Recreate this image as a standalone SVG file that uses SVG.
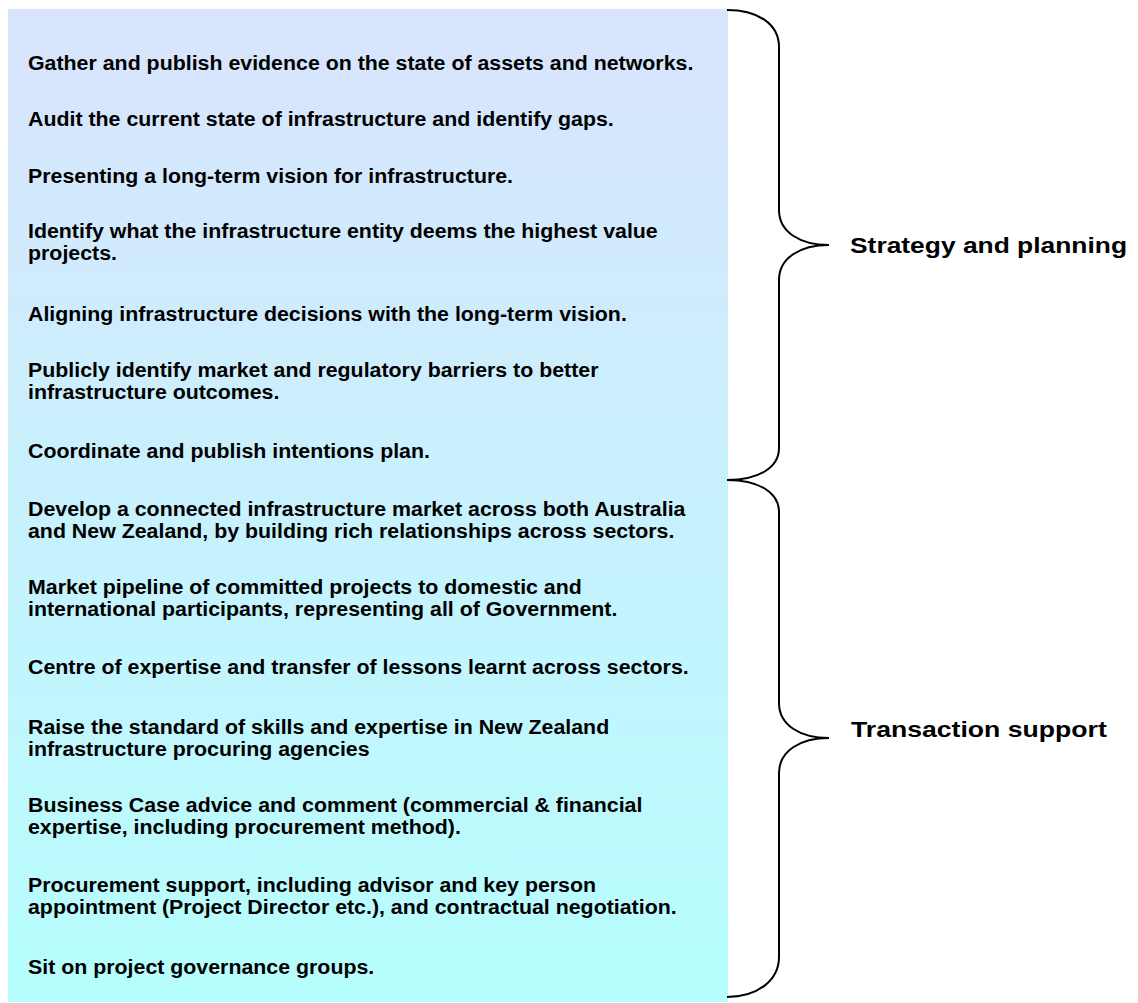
<svg xmlns="http://www.w3.org/2000/svg" width="1138" height="1003" viewBox="0 0 1138 1003">
  <defs>
    <linearGradient id="panelFill" x1="0" y1="0" x2="0" y2="1">
      <stop offset="0" stop-color="#d9e4fc"/>
      <stop offset="1" stop-color="#b6fefe"/>
    </linearGradient>
    <style>
      .item { font-family: "Liberation Sans", Arial, sans-serif; font-weight: bold; font-size: 19.5px; fill: #000; }
      .label { font-family: "Liberation Sans", Arial, sans-serif; font-weight: bold; font-size: 22px; fill: #000; }
      .brace { fill: none; stroke: #000; stroke-width: 2; }
    </style>
  </defs>
  <rect width="1138" height="1003" fill="#ffffff"/>

  <!-- list panel; the lettering is set slightly wide -->
  <g id="panel">
    <rect x="8" y="9" width="720" height="993" fill="url(#panelFill)"/>
    <g transform="translate(28 0) scale(1.095 1)">
      <text class="item" x="0" y="70">Gather and publish evidence on the state of assets and networks.</text>
      <text class="item" x="0" y="126">Audit the current state of infrastructure and identify gaps.</text>
      <text class="item" x="0" y="183">Presenting a long-term vision for infrastructure.</text>
      <text class="item" x="0" y="238">Identify what the infrastructure entity deems the highest value</text>
      <text class="item" x="0" y="260">projects.</text>
      <text class="item" x="0" y="321">Aligning infrastructure decisions with the long-term vision.</text>
      <text class="item" x="0" y="377">Publicly identify market and regulatory barriers to better</text>
      <text class="item" x="0" y="399">infrastructure outcomes.</text>
      <text class="item" x="0" y="458">Coordinate and publish intentions plan.</text>
      <text class="item" x="0" y="516">Develop a connected infrastructure market across both Australia</text>
      <text class="item" x="0" y="538">and New Zealand, by building rich relationships across sectors.</text>
      <text class="item" x="0" y="594">Market pipeline of committed projects to domestic and</text>
      <text class="item" x="0" y="616">international participants, representing all of Government.</text>
      <text class="item" x="0" y="674">Centre of expertise and transfer of lessons learnt across sectors.</text>
      <text class="item" x="0" y="734">Raise the standard of skills and expertise in New Zealand</text>
      <text class="item" x="0" y="756">infrastructure procuring agencies</text>
      <text class="item" x="0" y="812">Business Case advice and comment (commercial &amp; financial</text>
      <text class="item" x="0" y="834">expertise, including procurement method).</text>
      <text class="item" x="0" y="892">Procurement support, including advisor and key person</text>
      <text class="item" x="0" y="914">appointment (Project Director etc.), and contractual negotiation.</text>
      <text class="item" x="0" y="974">Sit on project governance groups.</text>
    </g>
  </g>

  <!-- braces grouping the list -->
  <g id="connectors">
    <path class="brace" d="M727,10 C758,10 779,24 779,47 L779,210 C779,232 800,245 829,245 C800,245 779,258 779,280 L779,448 C779,468 758,480 727,480"/>
    <path class="brace" d="M727,480 C758,480 779,492 779,512 L779,703 C779,725 800,738 829,738 C800,738 779,751 779,773 L779,957 C779,980 758,997 727,997"/>
  </g>

  <g id="strategy" transform="translate(850 0) scale(1.2 1)">
    <text class="label" x="0" y="253">Strategy and planning</text>
  </g>
  <g id="transaction" transform="translate(851 0) scale(1.21 1)">
    <text class="label" x="0" y="737">Transaction support</text>
  </g>
</svg>
